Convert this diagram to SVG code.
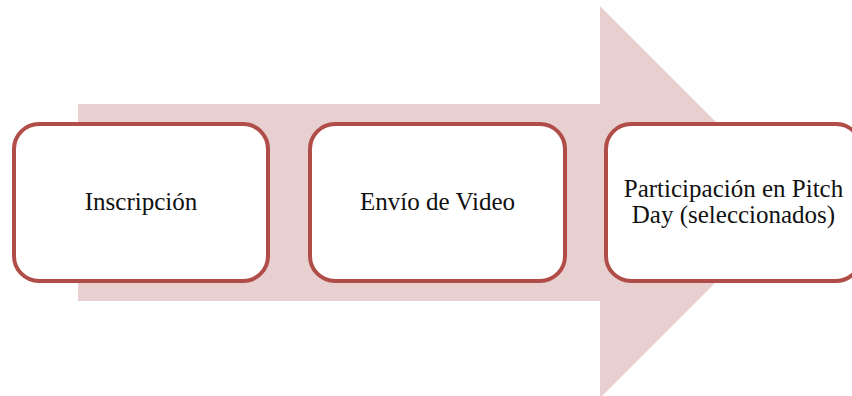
<svg xmlns="http://www.w3.org/2000/svg" width="852" height="396" viewBox="0 0 852 396">
<style>
.box{fill:#ffffff;stroke:#b14d49;stroke-width:4}
.lbl{font-family:"Liberation Serif","Times New Roman",serif;font-size:25px;fill:#111111;text-anchor:middle}
</style>
<rect width="852" height="396" fill="#ffffff"/>
<g id="connectors">
<path d="M78 104 H600 V6 L796 202 L600 398 V301 H78 Z" fill="#e8d0d0"/>
</g>
<g id="node1">
<rect class="box" x="14" y="124" width="254" height="157" rx="25" ry="25"/>
<text class="lbl" x="141" y="210">Inscripción</text>
</g>
<g id="node2">
<rect class="box" x="310" y="124" width="255" height="157" rx="25" ry="25"/>
<text class="lbl" x="437.5" y="210">Envío de Video</text>
</g>
<g id="node3">
<rect class="box" x="606" y="124" width="255" height="157" rx="25" ry="25"/>
<text class="lbl" x="733.5" y="197">Participación en Pitch</text>
<text class="lbl" x="733.5" y="223">Day (seleccionados)</text>
</g>
</svg>
